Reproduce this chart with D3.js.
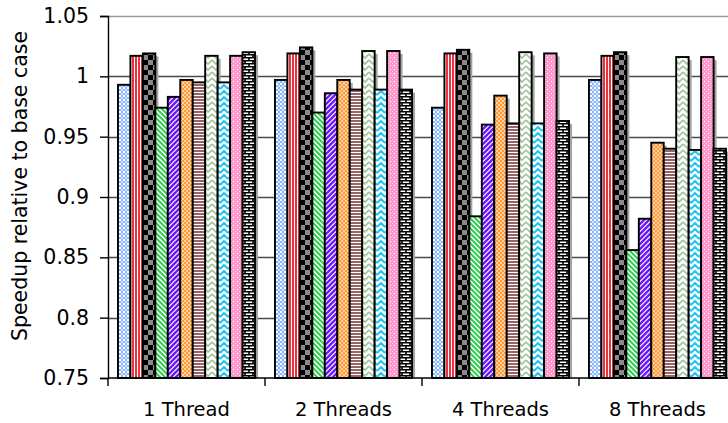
<!DOCTYPE html>
<html>
<head>
<meta charset="utf-8">
<script src="https://cdn.jsdelivr.net/npm/d3@7"></script>
<style>
  html, body { margin: 0; padding: 0; background: #fff; overflow: hidden; }
  svg { display: block; }
  text { font-family: "DejaVu Sans", sans-serif; fill: #000; }
</style>
</head>
<body>
<svg id="chart" width="728" height="423"></svg>
<script>
// Thread-count groups along the x axis
const categories = ["1 Thread", "2 Threads", "4 Threads", "8 Threads"];

// Speedup of each configuration, one value per thread-count group
const series1  = [0.993, 0.997, 0.974, 0.997];
const series2  = [1.017, 1.019, 1.019, 1.017];
const series3  = [1.019, 1.024, 1.022, 1.020];
const series4  = [0.974, 0.970, 0.884, 0.856];
const series5  = [0.983, 0.986, 0.960, 0.882];
const series6  = [0.997, 0.997, 0.984, 0.945];
const series7  = [0.995, 0.989, 0.961, 0.940];
const series8  = [1.017, 1.021, 1.020, 1.016];
const series9  = [0.995, 0.989, 0.961, 0.939];
const series10 = [1.017, 1.021, 1.019, 1.016];
const series11 = [1.020, 0.989, 0.963, 0.940];

const yTicks = [0.75, 0.8, 0.85, 0.9, 0.95, 1, 1.05];
const yTickLabels = ["0.75", "0.8", "0.85", "0.9", "0.95", "1", "1.05"];
const yTitle = "Speedup relative to base case";

const allSeries = [series1, series2, series3, series4, series5, series6,
                   series7, series8, series9, series10, series11];
const seriesKeys = allSeries.map((_, i) => "s" + (i + 1));

const svg = d3.select("#chart");
const groupWidth = 157;
const plotLeft = 108;
const plotRight = plotLeft + groupWidth * categories.length; // runs past the right edge
const plotTop = 16;
const plotBottom = 378;

const y = d3.scaleLinear().domain([0.75, 1.05]).range([plotBottom, plotTop]);
const x0 = d3.scaleBand().domain(categories).range([plotLeft, plotRight]).padding(0);
const x1 = d3.scaleBand().domain(seriesKeys).range([0, x0.bandwidth()])
  .paddingInner(0).paddingOuter(0.8);

// ---- fill patterns ----
const defs = svg.append("defs");
function pat(id, w, h, draw) {
  const p = defs.append("pattern").attr("id", id)
    .attr("patternUnits", "userSpaceOnUse").attr("width", w).attr("height", h);
  draw(p);
}
// light blue lattice
pat("p1", 4, 4, p => {
  p.append("rect").attr("width", 4).attr("height", 4).attr("fill", "#ffffff");
  p.append("rect").attr("x", 0).attr("y", 1).attr("width", 4).attr("height", 2).attr("fill", "#86b4ff");
  p.append("rect").attr("x", 1).attr("y", 0).attr("width", 2).attr("height", 4).attr("fill", "#86b4ff");
  p.append("rect").attr("x", 1).attr("y", 1).attr("width", 2).attr("height", 2).attr("fill", "#d4e4ff");
});
// red vertical stripes
pat("p2", 3, 3, p => {
  p.append("rect").attr("width", 3).attr("height", 3).attr("fill", "#ffffff");
  p.append("rect").attr("width", 2).attr("height", 3).attr("fill", "#e8333f");
});
// black / grey checkerboard
pat("p3", 10, 10, p => {
  p.append("rect").attr("width", 10).attr("height", 10).attr("fill", "#000");
  p.append("rect").attr("x", 0).attr("y", 0).attr("width", 5).attr("height", 5).attr("fill", "#8a8a8a");
  p.append("rect").attr("x", 5).attr("y", 5).attr("width", 5).attr("height", 5).attr("fill", "#8a8a8a");
});
// green diagonal stripes
pat("p4", 5, 5, p => {
  p.append("rect").attr("width", 5).attr("height", 5).attr("fill", "#fff");
  p.append("path").attr("d", "M-1,-1L6,6M-1,4L1,6M4,-1L6,1")
    .attr("stroke", "#2fcf4f").attr("stroke-width", 2);
});
// purple diagonal stripes
pat("p5", 5, 5, p => {
  p.append("rect").attr("width", 5).attr("height", 5).attr("fill", "#fff");
  p.append("path").attr("d", "M-1,6L6,-1M-1,1L1,-1M4,6L6,4")
    .attr("stroke", "#6b18ff").attr("stroke-width", 2.4);
});
// orange fine check
pat("p6", 4, 4, p => {
  p.append("rect").attr("width", 4).attr("height", 4).attr("fill", "#ff9a38");
  p.append("rect").attr("x", 0).attr("y", 0).attr("width", 2).attr("height", 2).attr("fill", "#ffd0a0");
  p.append("rect").attr("x", 2).attr("y", 2).attr("width", 2).attr("height", 2).attr("fill", "#ffd0a0");
});
// mauve horizontal stripes
pat("p7", 3, 3, p => {
  p.append("rect").attr("width", 3).attr("height", 3).attr("fill", "#fff");
  p.append("rect").attr("width", 3).attr("height", 2).attr("fill", "#966464");
});
// pale green chevrons
pat("p8", 8, 6, p => {
  p.append("rect").attr("width", 8).attr("height", 6).attr("fill", "#fff");
  p.append("path").attr("d", "M0,0L4,4L8,0M0,6L4,10L8,6")
    .attr("stroke", "#a3c49b").attr("stroke-width", 1.7).attr("fill", "none");
});
// cyan chevrons
pat("p9", 8, 6, p => {
  p.append("rect").attr("width", 8).attr("height", 6).attr("fill", "#fff");
  p.append("path").attr("d", "M0,5L4,1L8,5M0,11L4,7L8,11")
    .attr("stroke", "#22c4f4").attr("stroke-width", 2).attr("fill", "none");
});
// pink dotted
pat("p10", 4, 4, p => {
  p.append("rect").attr("width", 4).attr("height", 4).attr("fill", "#ff98cb");
  p.append("rect").attr("x", 1).attr("y", 1).attr("width", 1).attr("height", 1).attr("fill", "#fff");
  p.append("rect").attr("x", 3).attr("y", 3).attr("width", 1).attr("height", 1).attr("fill", "#ffd0e6");
});
// brick
pat("p11", 8, 6, p => {
  p.append("rect").attr("width", 8).attr("height", 6).attr("fill", "#fff");
  p.append("path").attr("d", "M0,0.75H8M0,3.75H8M1,0V3M5,3V6")
    .attr("stroke", "#000").attr("stroke-width", 1.6);
});

// ---- gridlines ----
svg.append("g").selectAll("line").data(yTicks.filter(v => v > 0.75)).join("line")
  .attr("x1", plotLeft).attr("x2", plotRight)
  .attr("y1", d => Math.round(y(d)) + 0.5).attr("y2", d => Math.round(y(d)) + 0.5)
  .attr("stroke", d => d === 1.05 ? "#9a9a9a" : "#4a4a4a")
  .attr("stroke-width", d => d === 1.05 ? 1.5 : 1.4);

// ---- bars with drop shadows ----
const groups = svg.append("g").selectAll("g").data(categories).join("g")
  .attr("transform", d => `translate(${x0(d)},0)`);

groups.each(function (cat, gi) {
  const g = d3.select(this);
  seriesKeys.forEach((key, si) => {
    const v = allSeries[si][gi];
    const bx = x1(key), bw = x1.bandwidth();
    g.append("rect")
      .attr("x", bx + 3).attr("y", y(v) + 3)
      .attr("width", bw).attr("height", plotBottom - y(v) - 3)
      .attr("fill", "#a3a3a3");
    g.append("rect")
      .attr("x", bx).attr("y", y(v))
      .attr("width", bw).attr("height", plotBottom - y(v))
      .attr("fill", `url(#p${si + 1})`)
      .attr("stroke", "#000").attr("stroke-width", 1.9);
  });
});

// ---- axes ----
const yAxis = d3.axisLeft(y).tickValues(yTicks)
  .tickFormat((d, i) => yTickLabels[i]).tickSize(8).tickPadding(11);
const yg = svg.append("g").attr("transform", `translate(${plotLeft},0)`).call(yAxis);
yg.select(".domain").attr("stroke", "#000").attr("stroke-width", 1.4);
yg.selectAll(".tick line").attr("stroke", "#000").attr("stroke-width", 1.4);
yg.selectAll(".tick text").attr("font-size", 20.5).attr("font-family", "DejaVu Sans");

// category axis: ticks sit on group boundaries
svg.append("line").attr("x1", plotLeft).attr("x2", plotRight)
  .attr("y1", plotBottom).attr("y2", plotBottom)
  .attr("stroke", "#000").attr("stroke-width", 1.6);
svg.append("g").selectAll("line").data(categories).join("line")
  .attr("x1", d => x0(d)).attr("x2", d => x0(d))
  .attr("y1", plotBottom).attr("y2", plotBottom + 8)
  .attr("stroke", "#000").attr("stroke-width", 1.4);
svg.append("g").selectAll("text").data(categories).join("text")
  .attr("x", d => x0(d) + x0.bandwidth() / 2)
  .attr("y", 416)
  .attr("text-anchor", "middle")
  .attr("font-size", 19.5)
  .text(d => d);

// y title
svg.append("text")
  .attr("transform", `translate(27,186) rotate(-90)`)
  .attr("text-anchor", "middle")
  .attr("font-size", 20.5)
  .text(yTitle);
</script>
</body>
</html>
